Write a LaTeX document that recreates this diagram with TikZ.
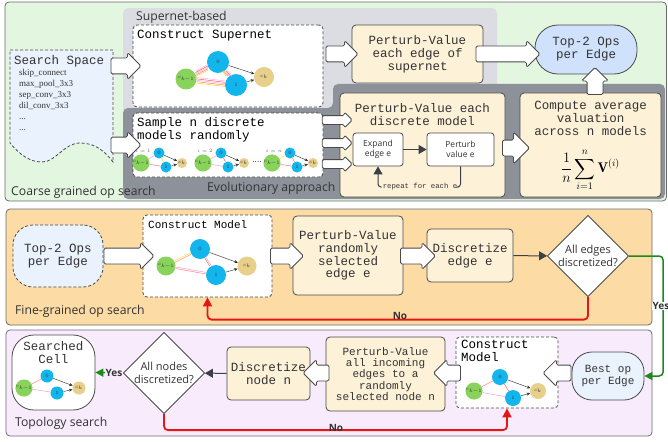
\documentclass[tikz,border=0pt]{standalone}
\usepackage{amsmath}
\usepackage{fontspec}
\setmonofont{Liberation Mono}
\setsansfont{Open Sans}
\newfontfamily\listfont{Liberation Serif}
\usetikzlibrary{shapes.arrows,shapes.geometric,arrows.meta}

\definecolor{mintbg}{HTML}{E3F7E0}
\definecolor{lightgraybg}{HTML}{DCDDE2}
\definecolor{darkgraybg}{HTML}{8D9199}
\definecolor{tanfill}{HTML}{FDF1D8}
\definecolor{orangebg}{HTML}{FCDBA4}
\definecolor{lavenderbg}{HTML}{F8ECFC}
\definecolor{skyfill}{HTML}{D0E2FB}
\definecolor{paleblue}{HTML}{EAF2FD}
\definecolor{bordergray}{HTML}{4A4A4A}
\definecolor{panelline}{HTML}{6B6B6B}
\definecolor{textgray}{HTML}{333333}
\definecolor{flowgray}{HTML}{3B3F48}
\definecolor{nodegreen}{HTML}{88D35C}
\definecolor{nodeblue}{HTML}{12B6EC}
\definecolor{nodetan}{HTML}{E8CF8A}
\definecolor{yesgreen}{HTML}{1A8A1A}
\definecolor{nored}{HTML}{E81515}

\newcommand\monotext{\ttfamily\fontsize{12.5}{12.8}\selectfont}
\newcommand\monosmall{\ttfamily\fontsize{11}{11.2}\selectfont}

\begin{document}
\begin{tikzpicture}[x=1pt, y=-1pt,
    panel/.style={draw=panelline, line width=0.8pt, rounded corners=4pt},
    paneltext/.style={font=\sffamily\fontsize{12.2}{14}\selectfont, text=textgray, anchor=west, inner sep=0pt},
    tanbox/.style={draw=bordergray, fill=tanfill, line width=0.8pt, rounded corners=4pt, align=center, font=\monotext, text=textgray, inner sep=0pt},
    dashbox/.style={draw=bordergray, fill=white, line width=0.8pt, dash pattern=on 3pt off 2pt, rounded corners=4pt, inner sep=0pt},
    pill/.style={draw=bordergray, line width=0.8pt, align=center, inner sep=0pt, text=textgray},
    bigarrow/.style={single arrow, draw=bordergray, fill=white, line width=0.8pt, inner sep=7.5pt, single arrow head extend=5.5pt, minimum height=#1, rounded corners=1.5pt},
    smallarrow/.style={bigarrow=#1, inner sep=4pt, single arrow head extend=3.5pt},
    innerbox/.style={draw=bordergray, fill=white, line width=0.8pt, rounded corners=3pt, align=center, font=\sffamily\fontsize{8.5}{10}\selectfont, text=textgray, inner sep=0pt},
    decision/.style={diamond, draw=bordergray, fill=white, line width=0.8pt, align=center, inner sep=0pt, font=\sffamily\fontsize{11}{13}\selectfont, text=textgray},
    flowline/.style={draw=flowgray, line width=1pt, -{Triangle[length=8pt, width=9pt]}},
    noline/.style={draw=nored, line width=1.8pt, rounded corners=4pt, -{Triangle[length=9pt, width=9pt]}},
    yesline/.style={draw=yesgreen, line width=1.5pt, rounded corners=4pt, -{Triangle[length=8pt, width=8pt]}},
    branch/.style={font=\sffamily\bfseries\fontsize{10}{12}\selectfont, text=textgray, inner sep=0.5pt},
    gnode/.style={circle, inner sep=0pt, text=textgray, font=\fontsize{5}{5}\selectfont},
    outedge/.style={draw=black!80, line width=0.45pt, -{Stealth[length=3.5pt, width=3pt]}}]
    \useasboundingbox (0,0) rectangle (668,441);

    % coarse grained panel
    \draw[panel, fill=mintbg] (5,2) rectangle (666.5,201);
    \fill[lightgraybg, rounded corners=5pt] (123,8) rectangle (497,115);
    \fill[darkgraybg, rounded corners=5pt] (123,199) -- (123,108) -- (333,108) -- (333,84) -- (665,84) -- (665,199) -- cycle;
    \node[paneltext] (superlbl) at (136,17) {Supernet-based};
    \node[paneltext] (evolbl) at (207,188) {Evolutionary approach};
    \node[paneltext] (coarselbl) at (11,192) {Coarse grained op search};

    % search space sheet
    \draw[draw=bordergray, fill=paleblue, line width=0.8pt, dash pattern=on 3pt off 2pt]
        (10,50) -- (113,50) -- (113,162) .. controls (104,150) and (94,143) .. (80,143)
        .. controls (64,143) and (56,162) .. (42,162) .. controls (30,162) and (20,155) .. (10,143) -- cycle;
    \node[font=\monotext, text=textgray, anchor=west, inner sep=0pt] (spacetitle) at (14,61) {Search Space};
    \node[font=\listfont\fontsize{9}{11}\selectfont, text=textgray, align=left, anchor=north west, inner sep=0pt] (oplist) at (19,69)
        {skip\_connect\\max\_pool\_3x3\\sep\_conv\_3x3\\dil\_conv\_3x3\\...\\...};

    % supernet branch
    \node[dashbox, minimum width=190pt, minimum height=82pt] (supernet) at (228,66) {};
    \node[font=\monotext, text=black, anchor=west, inner sep=0pt] (supertitle) at (137,36) {Construct Supernet};
    \node[gnode, fill=nodegreen, minimum size=21pt] (scp) at (186,79) {$c_{k-1}$};
    \node[gnode, fill=nodeblue, minimum size=22pt] (sza) at (218,62) {$0$};
    \node[gnode, fill=nodeblue, minimum size=22pt] (szb) at (236,85) {$1$};
    \node[gnode, fill=nodetan, minimum size=20pt] (sck) at (264,77) {$c_k$};
    \foreach \s/\c in {-2.8/yellow!75!orange, -1.4/red!50, 0/magenta!35, 1.4/red!65, 2.8/magenta!30} {
        \draw[color=\c, line width=0.5pt, transform canvas={yshift=\s}] (scp) -- (sza);
        \draw[color=\c, line width=0.5pt, transform canvas={yshift=\s}] (scp) -- (szb);
        \draw[color=\c, line width=0.5pt, transform canvas={xshift=\s}] (sza) -- (szb);
    }
    \draw[outedge] (sza) -- (sck);
    \draw[outedge] (szb) -- (sck);

    \node[tanbox, minimum width=131pt, minimum height=58pt] (pvsuper) at (417.5,54) {Perturb-Value\\each edge of\\supernet};
    \node[pill, fill=skyfill, rounded corners=23pt, minimum width=102pt, minimum height=49pt, font=\monotext] (topops) at (586,49.5) {Top-2 Ops\\per Edge};

    % evolutionary branch
    \node[dashbox, minimum width=190pt, minimum height=64pt] (sample) at (228,145) {};
    \node[font=\monotext, text=black, align=left, anchor=north west, inner sep=0pt] (sampletitle) at (137,117) {Sample n discrete\\models randomly};
    \foreach \g/\dx/\ca/\cb/\cc/\lab in {1/0/magenta!40/red!55/yellow!90!orange/1, 2/62/magenta!40/magenta!40/red!55/2, 3/131/yellow!90!orange/red!55/red!55/n} {
        \node[gnode, fill=nodegreen, minimum size=11pt] (cp\g) at (141+\dx,163) {$c_{k-1}$};
        \node[gnode, fill=nodeblue, minimum size=11pt] (za\g) at (159+\dx,153) {$0$};
        \node[gnode, fill=nodeblue, minimum size=11pt] (zb\g) at (166+\dx,167) {$1$};
        \node[gnode, fill=nodetan, minimum size=10pt] (ck\g) at (182+\dx,163) {$c_k$};
        \node[gnode, text=black!60] (lab\g) at (143+\dx,151) {$i=\lab$};
        \draw[color=\ca, line width=0.5pt] (cp\g) -- (za\g);
        \draw[color=\cb, line width=0.5pt] (cp\g) -- (zb\g);
        \draw[color=\cc, line width=0.5pt] (za\g) -- (zb\g);
        \draw[outedge] (za\g) -- (ck\g);
        \draw[outedge] (zb\g) -- (ck\g);
    }
    \node[font=\bfseries\fontsize{6}{6}\selectfont, inner sep=0pt] (moredots) at (257,162) {....};

    \node[tanbox, minimum width=165pt, minimum height=104pt] (pvdisc) at (422.5,145) {};
    \node[font=\monotext, text=textgray, align=center, inner sep=0pt] (pvdisctitle) at (422.5,114.5) {Perturb-Value each\\discrete model};
    \node[innerbox, minimum width=50pt, minimum height=33pt] (expand) at (378,149.5) {Expand\\edge e};
    \node[innerbox, minimum width=67pt, minimum height=33pt] (perturbv) at (460.5,149.5) {Perturb\\value e};
    \node[font=\ttfamily\fontsize{7.3}{8}\selectfont, text=textgray, fill=tanfill, inner sep=1pt] (repeat) at (420,187) {repeat for each e};
    \draw[flowline] (expand) -- (perturbv);
    \draw[draw=flowgray, line width=1pt, rounded corners=3pt] (perturbv.south) |- (repeat.east);
    \draw[flowline, rounded corners=3pt] (repeat.west) -| (expand.south);

    \node[tanbox, minimum width=141pt, minimum height=104pt] (average) at (590.5,145) {};
    \node[font=\monotext, text=textgray, align=center, inner sep=0pt] (avgtitle) at (590.5,118.5) {Compute average\\valuation\\across n models};
    \node[text=black, inner sep=0pt] (avgformula) at (590.5,170)
        {\fontsize{14}{16}\selectfont$\displaystyle\frac{1}{n}\sum_{i=1}^{n}\mathbf{V}^{(i)}$};

    % block arrows, top row
    \node[bigarrow=30pt] (ssup) at (122,66) {};
    \node[bigarrow=30pt] (ssample) at (122,145) {};
    \node[bigarrow=32pt] (suptopv) at (338,54) {};
    \node[bigarrow=64pt] (pvtotop) at (504,54) {};
    \foreach \y in {120,143,164}
        \node[smallarrow=30pt] (samplearr\y) at (335,\y) {};
    \node[bigarrow=27pt, single arrow head extend=8pt] (discavg) at (512,148) {};
    \node[bigarrow=27pt, shape border rotate=90] (avgtop) at (595,85) {};

    % fine-grained panel
    \draw[panel, fill=orangebg] (6,209) rectangle (652,325);
    \node[paneltext] (finelbl) at (15,311) {Fine-grained op search};
    \node[pill, fill=paleblue, dash pattern=on 3pt off 2pt, rounded corners=20pt, minimum width=90pt, minimum height=62pt, font=\monotext] (topopsb) at (58,256) {Top-2 Ops\\per Edge};
    \node[dashbox, minimum width=129pt, minimum height=82pt] (model) at (207.5,256) {};
    \node[font=\monosmall, text=black, anchor=west, inner sep=0pt] (modeltitle) at (148,225) {Construct Model};
    \node[gnode, fill=nodegreen, minimum size=19pt] (mcp) at (166,266) {$c_{k-1}$};
    \node[gnode, fill=nodeblue, minimum size=20pt] (mza) at (200,249) {$0$};
    \node[gnode, fill=nodeblue, minimum size=20pt] (mzb) at (216,275) {$1$};
    \node[gnode, fill=nodetan, minimum size=19pt] (mck) at (247,266) {$c_k$};
    \draw[yellow!90!orange, line width=0.5pt, transform canvas={yshift=0.8}] (mcp) -- (mza);
    \draw[red!45, line width=0.5pt, transform canvas={yshift=-0.8}] (mcp) -- (mza);
    \draw[magenta!40, line width=0.5pt, transform canvas={yshift=0.8}] (mcp) -- (mzb);
    \draw[red!50, line width=0.5pt, transform canvas={yshift=-0.8}] (mcp) -- (mzb);
    \draw[red!60, line width=0.5pt, transform canvas={xshift=-0.8}] (mza) -- (mzb);
    \draw[magenta!40, line width=0.5pt, transform canvas={xshift=0.8}] (mza) -- (mzb);
    \draw[outedge] (mza) -- (mck);
    \draw[outedge] (mzb) -- (mck);
    \node[tanbox, minimum width=110pt, minimum height=79pt] (pvrand) at (348,255.5) {Perturb-Value\\randomly\\selected\\edge e};
    \node[tanbox, minimum width=86pt, minimum height=53pt] (discedge) at (470,255.5) {Discretize\\edge e};
    \node[decision, minimum width=80pt, minimum height=75pt] (edgecheck) at (588,256) {All edges\\discretized?};
    \node[bigarrow=50pt] (toptomodel) at (125,256) {};
    \node[bigarrow=33pt] (modeltopv) at (283,256) {};
    \node[bigarrow=35pt] (pvtodisc) at (414,256) {};
    \draw[flowline] (discedge) -- (edgecheck);

    % topology panel
    \draw[panel, fill=lavenderbg] (6,330) rectangle (652,436);
    \node[paneltext] (topolbl) at (15,423) {Topology search};
    \node[pill, fill=white, rounded corners=22pt, minimum width=83pt, minimum height=75pt] (cell) at (53.5,372.5) {};
    \node[font=\monotext, text=textgray, align=center, inner sep=0pt] (celltitle) at (53.5,352.5) {Searched\\Cell};
    \node[gnode, fill=nodegreen, minimum size=13pt] (ccp) at (24,388) {$c_{k-1}$};
    \node[gnode, fill=nodeblue, minimum size=13pt] (cza) at (47,376) {$0$};
    \node[gnode, fill=nodeblue, minimum size=13pt] (czb) at (57,393) {$1$};
    \node[gnode, fill=nodetan, minimum size=13pt] (cck) at (79,388) {$c_k$};
    \draw[red!45, line width=0.5pt] (ccp) -- (cza);
    \draw[magenta!40, line width=0.5pt] (ccp) -- (czb);
    \draw[outedge] (cza) -- (cck);
    \draw[outedge] (czb) -- (cck);
    \node[decision, minimum width=78pt, minimum height=77pt] (nodecheck) at (164,373) {All nodes\\discretized?};
    \node[tanbox, minimum width=83pt, minimum height=53pt] (discnode) at (268.5,373.5) {Discretize\\node n};
    \node[tanbox, minimum width=119pt, minimum height=74pt, font=\monosmall] (pvincoming) at (385.5,374) {Perturb-Value\\all incoming\\edges to a\\randomly\\selected node n};
    \node[dashbox, minimum width=102pt, minimum height=71pt] (modelb) at (507,372.5) {};
    \node[font=\monotext, text=black, align=left, anchor=north west, inner sep=0pt] (modelbtitle) at (461,340) {Construct\\Model};
    \node[gnode, fill=nodegreen, minimum size=16pt] (bcp) at (474,391) {$c_{k-1}$};
    \node[gnode, fill=nodeblue, minimum size=16pt] (bza) at (500,377) {$0$};
    \node[gnode, fill=nodeblue, minimum size=16pt] (bzb) at (513,398) {$1$};
    \node[gnode, fill=nodetan, minimum size=16pt] (bck) at (538,391) {$c_k$};
    \draw[red!45, line width=0.5pt] (bcp) -- (bza);
    \draw[magenta!40, line width=0.5pt] (bcp) -- (bzb);
    \draw[red!60, line width=0.5pt] (bza) -- (bzb);
    \draw[outedge] (bza) -- (bck);
    \draw[outedge] (bzb) -- (bck);
    \node[pill, fill=paleblue, rounded corners=20pt, minimum width=72pt, minimum height=48pt, font=\monosmall] (bestop) at (608,376) {Best op\\per Edge};
    \node[bigarrow=28pt, shape border rotate=180] (besttomodel) at (561,373) {};
    \node[bigarrow=27pt, shape border rotate=180] (modeltoinc) at (451,373) {};
    \node[bigarrow=26pt, shape border rotate=180] (inctodisc) at (320,373) {};
    \draw[flowline] (discnode) -- (nodecheck);

    % decisions
    \draw[noline] (edgecheck.south) -- ++(0,22.5) -| (model.south);
    \node[branch] (edgeno) at (400,316) {No};
    \draw[yesline] (edgecheck.east) -- ++(34,0) |- (bestop.east);
    \node[branch, fill=white] (edgeyes) at (661,306) {Yes};
    \draw[noline] (nodecheck.south) -- ++(0,16) -| (modelb.south);
    \node[branch] (nodeno) at (336,428) {No};
    \draw[yesline] (nodecheck.west) -- (cell.east);
    \node[branch, fill=lavenderbg] (nodeyes) at (114,373) {Yes};
\end{tikzpicture}
\end{document}
